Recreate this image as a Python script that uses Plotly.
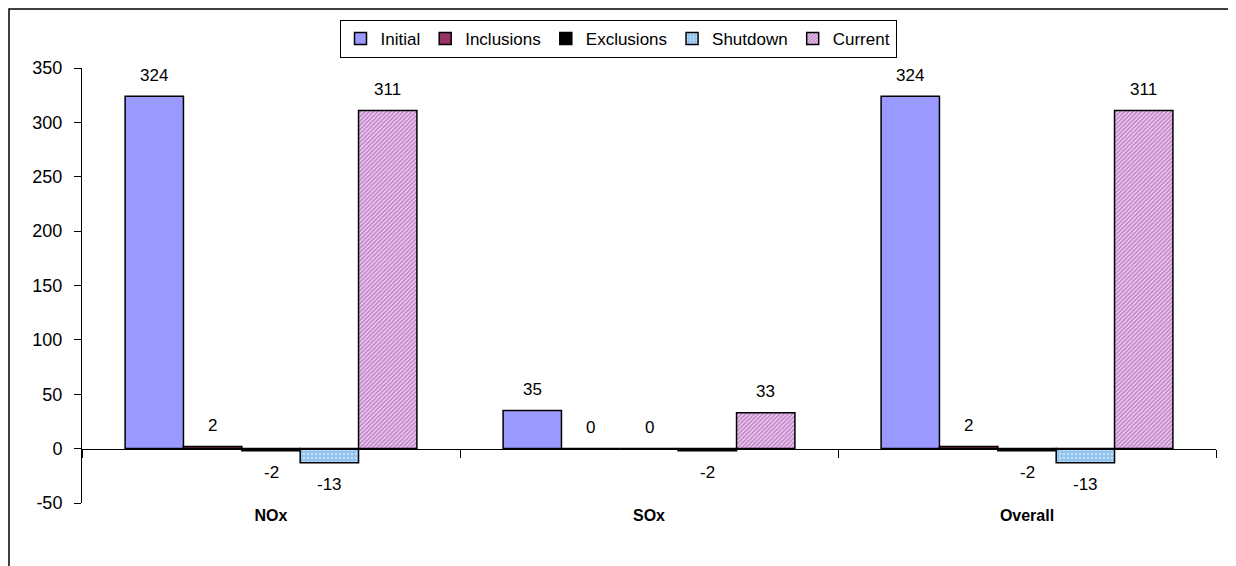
import plotly.graph_objects as go

categories = ["NOx", "SOx", "Overall"]
series_names = ["Initial", "Inclusions", "Exclusions", "Shutdown", "Current"]
initial = [324, 35, 324]
inclusions = [2, 0, 2]
exclusions = [-2, 0, -2]
shutdown = [-13, -2, -13]
current = [311, 33, 311]
y_ticks = [-50, 0, 50, 100, 150, 200, 250, 300, 350]
y_tick_labels = ["-50", "0", "50", "100", "150", "200", "250", "300", "350"]

series_values = [initial, inclusions, exclusions, shutdown, current]
colors = ["#9999FF", "#993366", "#000000", "#99CCFF", "#FFFFFF"]
patterns = [
    None,
    None,
    None,
    dict(shape=".", fgcolor="#FFFFFF", bgcolor="#8EC3F0", size=4, solidity=0.3),
    dict(shape="/", fgcolor="#9933AA", bgcolor="#F0D8F0", size=3, solidity=0.6),
]

FONT = "Liberation Sans, Arial, sans-serif"
bargap = 0.228
n = len(series_names)

# figure-pixel geometry (page has an 8px body margin)
L, T, R, B = 74, 60, 1208, 495
W, H = 1236, 566
PW, PH = R - L, B - T

fig = go.Figure()
for i, (name, vals) in enumerate(zip(series_names, series_values)):
    marker = dict(color=colors[i], line=dict(color="#000000", width=1.5))
    if patterns[i] is not None:
        marker["pattern"] = patterns[i]
    fig.add_trace(go.Bar(name=name, x=categories, y=vals, marker=marker))

bw = (1 - bargap) / n
annotations = []
for i, vals in enumerate(series_values):
    for c, v in enumerate(vals):
        xc = c - (1 - bargap) / 2 + bw * (i + 0.5)
        annotations.append(dict(
            x=xc, y=v, xref="x", yref="y", text=str(v), showarrow=False,
            yshift=21 if v >= 0 else -22,
            font=dict(family=FONT, size=17, color="#000000"),
        ))

fig.update_layout(
    width=W, height=H,
    margin=dict(l=L, r=W - R, t=T, b=H - B),
    paper_bgcolor="#FFFFFF", plot_bgcolor="#FFFFFF",
    barmode="group", bargap=bargap, bargroupgap=0,
    font=dict(family=FONT, size=17, color="#000000"),
    annotations=annotations,
    legend=dict(
        orientation="h", x=(618 - 8 - L) / PW, xanchor="center",
        y=(B - 31) / PH, yanchor="middle",
        bordercolor="#000000", borderwidth=1, bgcolor="#FFFFFF",
        font=dict(family=FONT, size=17), itemwidth=30, tracegroupgap=0,
    ),
    xaxis=dict(
        type="category", anchor="free", position=50 / 400,
        showline=True, linecolor="#000000", linewidth=1,
        ticks="outside", tickson="boundaries", ticklen=8, tickcolor="#000000",
        tickfont=dict(family=FONT, size=16, color="#000000", weight="bold"),
        ticklabelstandoff=52,
        showgrid=False, range=[-0.5, 2.5],
    ),
    yaxis=dict(
        range=[-50, 350], tickvals=y_ticks, ticktext=y_tick_labels,
        showgrid=False, zeroline=False,
        showline=True, linecolor="#000000", linewidth=1,
        ticks="outside", ticklen=7, tickcolor="#000000",
        ticklabelstandoff=8,
        tickfont=dict(family=FONT, size=18, color="#000000"),
    ),
    shapes=[
        dict(type="rect", xref="paper", yref="paper",
             x0=(1 - L) / PW, x1=(1223 - L) / PW,
             y0=(B - 620) / PH, y1=(B - 1) / PH,
             line=dict(color="#000000", width=1.5), fillcolor="rgba(0,0,0,0)",
             layer="below"),
    ],
)

fig.write_html("out.html")
